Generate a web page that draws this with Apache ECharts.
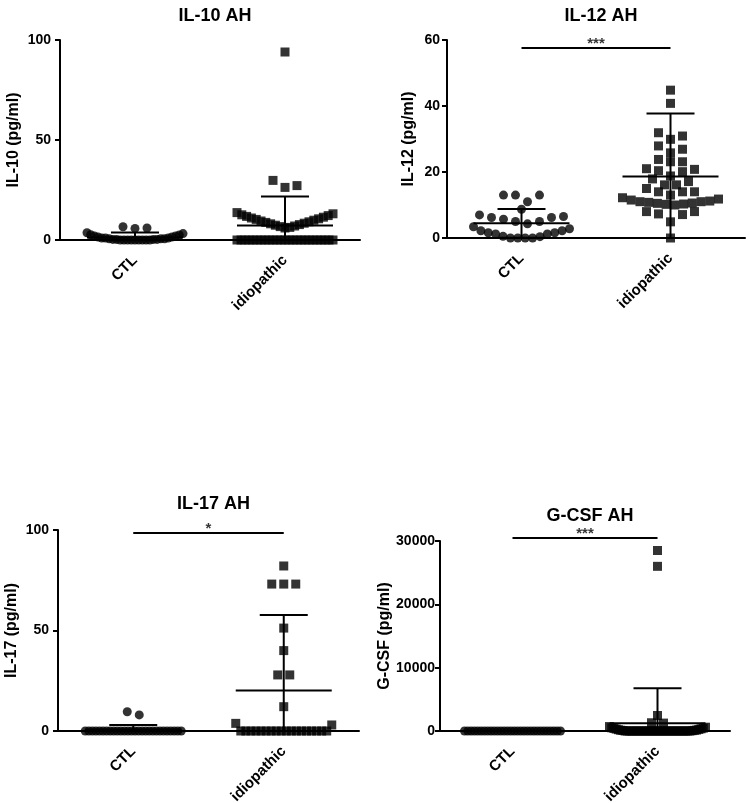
<!DOCTYPE html>
<html><head><meta charset="utf-8">
<script src="https://cdn.jsdelivr.net/npm/echarts@6/dist/echarts.min.js"></script>
<style>html,body{margin:0;padding:0;background:#fff}#c{width:750px;height:803px}</style>
</head><body><div id="c"></div>
<script>
// ---------- data ----------
const categories = ['CTL', 'idiopathic'];
const panelTitles = ['IL-10 AH', 'IL-12 AH', 'IL-17 AH', 'G-CSF AH'];
const yAxisNames = ['IL-10 (pg/ml)', 'IL-12 (pg/ml)', 'IL-17 (pg/ml)', 'G-CSF (pg/ml)'];
const yMax = [100, 60, 100, 30000];
const yInterval = [50, 20, 50, 10000];

const il10Ctl = [0, 0, 0, 0, 0, 0, 0, 0, 0, 0.3, 0.3, 0.3, 0.3, 0.6, 0.6, 0.6, 1, 1, 1, 1.5, 1.5, 2, 2, 2.5, 2.6, 3.2, 3.6, 5.8, 6.0, 6.6];
const il10Idio = [0, 0, 0, 0, 0, 0, 0, 0, 0, 0, 0, 0, 0, 0, 0, 0, 0, 0, 0, 0, 0, 0, 0, 0, 0,
  6.0, 6.3, 6.7, 7.0, 7.4, 7.7, 8.1, 8.4, 8.8, 9.1, 9.5, 9.9, 10.3, 10.6, 11.0, 11.4, 11.8, 12.2, 12.6, 13.1, 13.7,
  26.3, 27.2, 29.8, 94.0];
const il12Ctl = [0, 0, 0, 0, 0.4, 0.5, 1.2, 1.2, 1.6, 1.6, 2.2, 2.2, 2.8, 3.4,
  4.3, 5.0, 5.0, 5.7, 6.2, 6.2, 6.5, 7.0, 8.7, 11.0, 13.0, 13.0, 13.0];
const il12Idio = [0, 4.9, 7.1, 7.3, 8.0, 8.0, 10.0, 10.2, 10.3, 10.5, 10.6, 10.8, 11.0, 11.0, 11.2, 11.5, 11.8, 12.2,
  13.0, 14.0, 14.0, 14.0, 15.0, 16.1, 16.1, 17.1, 17.9, 18.8, 20.1, 20.4, 20.8, 21.0, 23.1, 23.1, 23.8,
  25.8, 26.9, 27.9, 29.9, 30.9, 31.9, 40.8, 44.8];
const il17Ctl = [0, 0, 0, 0, 0, 0, 0, 0, 0, 0, 0, 0, 0, 0, 0, 0, 0, 0, 0, 0, 0, 0, 0, 0, 0, 0, 0, 0, 8.0, 9.6];
const il17Idio = [0, 0, 0, 0, 0, 0, 0, 0, 0, 0, 0, 0, 0, 0, 0, 0, 0, 0, 3.0, 3.8, 12.1, 27.9, 27.9, 40.0, 51.2, 73.1, 73.1, 73.1, 82.1];
const gcsfCtl = [0, 0, 0, 0, 0, 0, 0, 0, 0, 0, 0, 0, 0, 0, 0, 0, 0, 0, 0, 0, 0, 0, 0, 0, 0, 0, 0, 0, 0, 0];
const gcsfIdio = [0, 0, 0, 0, 0, 0, 0, 0, 0, 0, 0, 0, 0, 0, 0, 0, 0, 0, 0, 0, 0, 0, 0, 0, 0, 0, 0, 0, 0, 0,
  50, 80, 100, 120, 150, 200, 250, 300, 350, 400, 450, 500, 600, 700, 1250, 1300, 2450, 26000, 28500];

const meanCtl = [1.2, 4.45, 0.6, 0];
const sdCtl = [2.5, 4.35, 2.4, 0];
const meanIdio = [7.2, 18.6, 20.1, 1210];
const sdIdio = [14.5, 19.1, 37.6, 5530];
const sigStars = ['', '***', '*', '***'];
const sigLevel = [null, 57.6, 98.5, 30470];

// ---------- layout ----------
const ctlData = [il10Ctl, il12Ctl, il17Ctl, gcsfCtl];
const idioData = [il10Idio, il12Idio, il17Idio, gcsfIdio];
const grids = [
  {left: 60, top: 40, width: 300, height: 200},
  {left: 447, top: 40, width: 298, height: 198},
  {left: 58, top: 530, width: 301, height: 201},
  {left: 440, top: 541, width: 290, height: 190}
];
const titleTops = [2, 2, 490, 502];
const nameGaps = [38, 30, 38, 46];
const labelMargins = [9, 7, 9, 5];
const FONT = 'Liberation Sans, Arial, Helvetica, sans-serif';
const MARK = 9, BIN_PX = 7.5, CHAIN_PX = 2.5, STEP_PX = 12, MAX_W_PX = 96;
const MEAN_HALF = 48, CAP_HALF = 24;

// GraphPad-like scatter-dot arrangement computed from the values
function swarm(values, catX, yPxPerUnit, xUnitsPerPx) {
  const sorted = values.slice().sort((a, b) => a - b);
  const binU = BIN_PX / yPxPerUnit, chainU = CHAIN_PX / yPxPerUnit;
  const rows = [];
  let row = null;
  for (const v of sorted) {
    if (row && (v - row[0] < binU || v - row[row.length - 1] < chainU)) row.push(v);
    else { row = [v]; rows.push(row); }
  }
  const pts = [];
  rows.forEach(r => {
    const n = r.length;
    const step = n > 1 ? Math.min(STEP_PX, MAX_W_PX / (n - 1)) : 0;
    r.forEach((v, i) => {
      let k;
      if (n % 2) k = i === 0 ? 0 : (i % 2 ? 1 : -1) * Math.ceil(i / 2);
      else k = (i % 2 ? -1 : 1) * (Math.floor(i / 2) + 0.5);
      pts.push([catX + k * step * xUnitsPerPx, v]);
    });
  });
  return pts;
}

const option = {
  animation: false,
  backgroundColor: '#fff',
  title: [], grid: [], xAxis: [], yAxis: [], series: []
};

grids.forEach((g, i) => {
  option.grid.push(Object.assign({containLabel: false, outerBoundsMode: 'none'}, g));
  option.title.push({
    text: panelTitles[i], left: g.left + g.width / 2, top: titleTops[i], textAlign: 'center',
    textStyle: {fontFamily: FONT, fontWeight: 'bold', fontSize: 18, color: '#000'}
  });
  option.xAxis.push({
    type: 'category', gridIndex: i, data: categories, boundaryGap: true,
    axisLine: {lineStyle: {color: '#000', width: 2}},
    axisTick: {alignWithLabel: true, length: 5, lineStyle: {color: '#000', width: 2}},
    axisLabel: {rotate: 45, margin: 18, color: '#000', fontFamily: FONT, fontWeight: 'bold', fontSize: 15},
    splitLine: {show: false}
  });
  option.xAxis.push({type: 'value', gridIndex: i, min: 0.5, max: 2.5, show: false});
  option.yAxis.push({
    type: 'value', gridIndex: i, min: 0, max: yMax[i], interval: yInterval[i],
    name: yAxisNames[i], nameLocation: 'middle', nameGap: nameGaps[i], nameRotate: 90,
    nameTextStyle: {fontFamily: FONT, fontWeight: 'bold', fontSize: 16, color: '#000'},
    axisLine: {show: true, lineStyle: {color: '#000', width: 2}},
    axisTick: {show: true, length: 5, lineStyle: {color: '#000', width: 2}},
    axisLabel: {margin: labelMargins[i], color: '#000', fontFamily: FONT, fontWeight: 'bold', fontSize: 14,
      formatter: v => String(v)},
    splitLine: {show: false}
  });
  const yPx = g.height / yMax[i];
  const xU = 2 / g.width;
  const xi = 2 * i + 1;
  option.series.push({
    type: 'scatter', xAxisIndex: xi, yAxisIndex: i, clip: false, silent: true,
    symbol: 'circle', symbolSize: MARK, itemStyle: {color: '#000'},
    data: swarm(ctlData[i], 1, yPx, xU), z: 3
  });
  option.series.push({
    type: 'scatter', xAxisIndex: xi, yAxisIndex: i, clip: false, silent: true,
    symbol: 'rect', symbolSize: MARK, itemStyle: {color: '#000'},
    data: swarm(idioData[i], 2, yPx, xU), z: 3
  });
  option.series.push({
    type: 'custom', xAxisIndex: xi, yAxisIndex: i, clip: false, silent: true, z: 4,
    data: [[1, meanCtl[i], sdCtl[i]], [2, meanIdio[i], sdIdio[i]]],
    renderItem: function (params, api) {
      const x = api.value(0), m = api.value(1), s = api.value(2);
      const c = api.coord([x, m]);
      const t = api.coord([x, m + s]);
      const lowV = Math.max(m - s, 0);
      const b = api.coord([x, lowV]);
      const st = {stroke: '#000', lineWidth: 2};
      const ch = [{type: 'line', shape: {x1: c[0] - MEAN_HALF, y1: c[1], x2: c[0] + MEAN_HALF, y2: c[1]}, style: st}];
      if (s > 0) {
        ch.push({type: 'line', shape: {x1: c[0], y1: t[1], x2: c[0], y2: b[1]}, style: st});
        ch.push({type: 'line', shape: {x1: c[0] - CAP_HALF, y1: t[1], x2: c[0] + CAP_HALF, y2: t[1]}, style: st});
        if (m - s > 0) ch.push({type: 'line', shape: {x1: c[0] - CAP_HALF, y1: b[1], x2: c[0] + CAP_HALF, y2: b[1]}, style: st});
      }
      return {type: 'group', children: ch};
    }
  });
  if (sigLevel[i] !== null) {
    option.series.push({
      type: 'line', xAxisIndex: xi, yAxisIndex: i, clip: false, silent: true, symbol: 'none',
      lineStyle: {color: '#000', width: 2}, data: [[1, sigLevel[i]], [2, sigLevel[i]]], z: 4
    });
    option.series.push({
      type: 'scatter', xAxisIndex: xi, yAxisIndex: i, clip: false, silent: true,
      symbolSize: 1, itemStyle: {color: 'rgba(0,0,0,0)'},
      label: {show: true, position: 'top', distance: -4, formatter: sigStars[i],
        fontFamily: FONT, fontSize: 15, fontWeight: 'bold', color: '#000'},
      data: [[1.5, sigLevel[i]]], z: 4
    });
  }
});

const chart = echarts.init(document.getElementById('c'), null, {renderer: 'canvas'});
chart.setOption(option);
</script>
</body></html>
